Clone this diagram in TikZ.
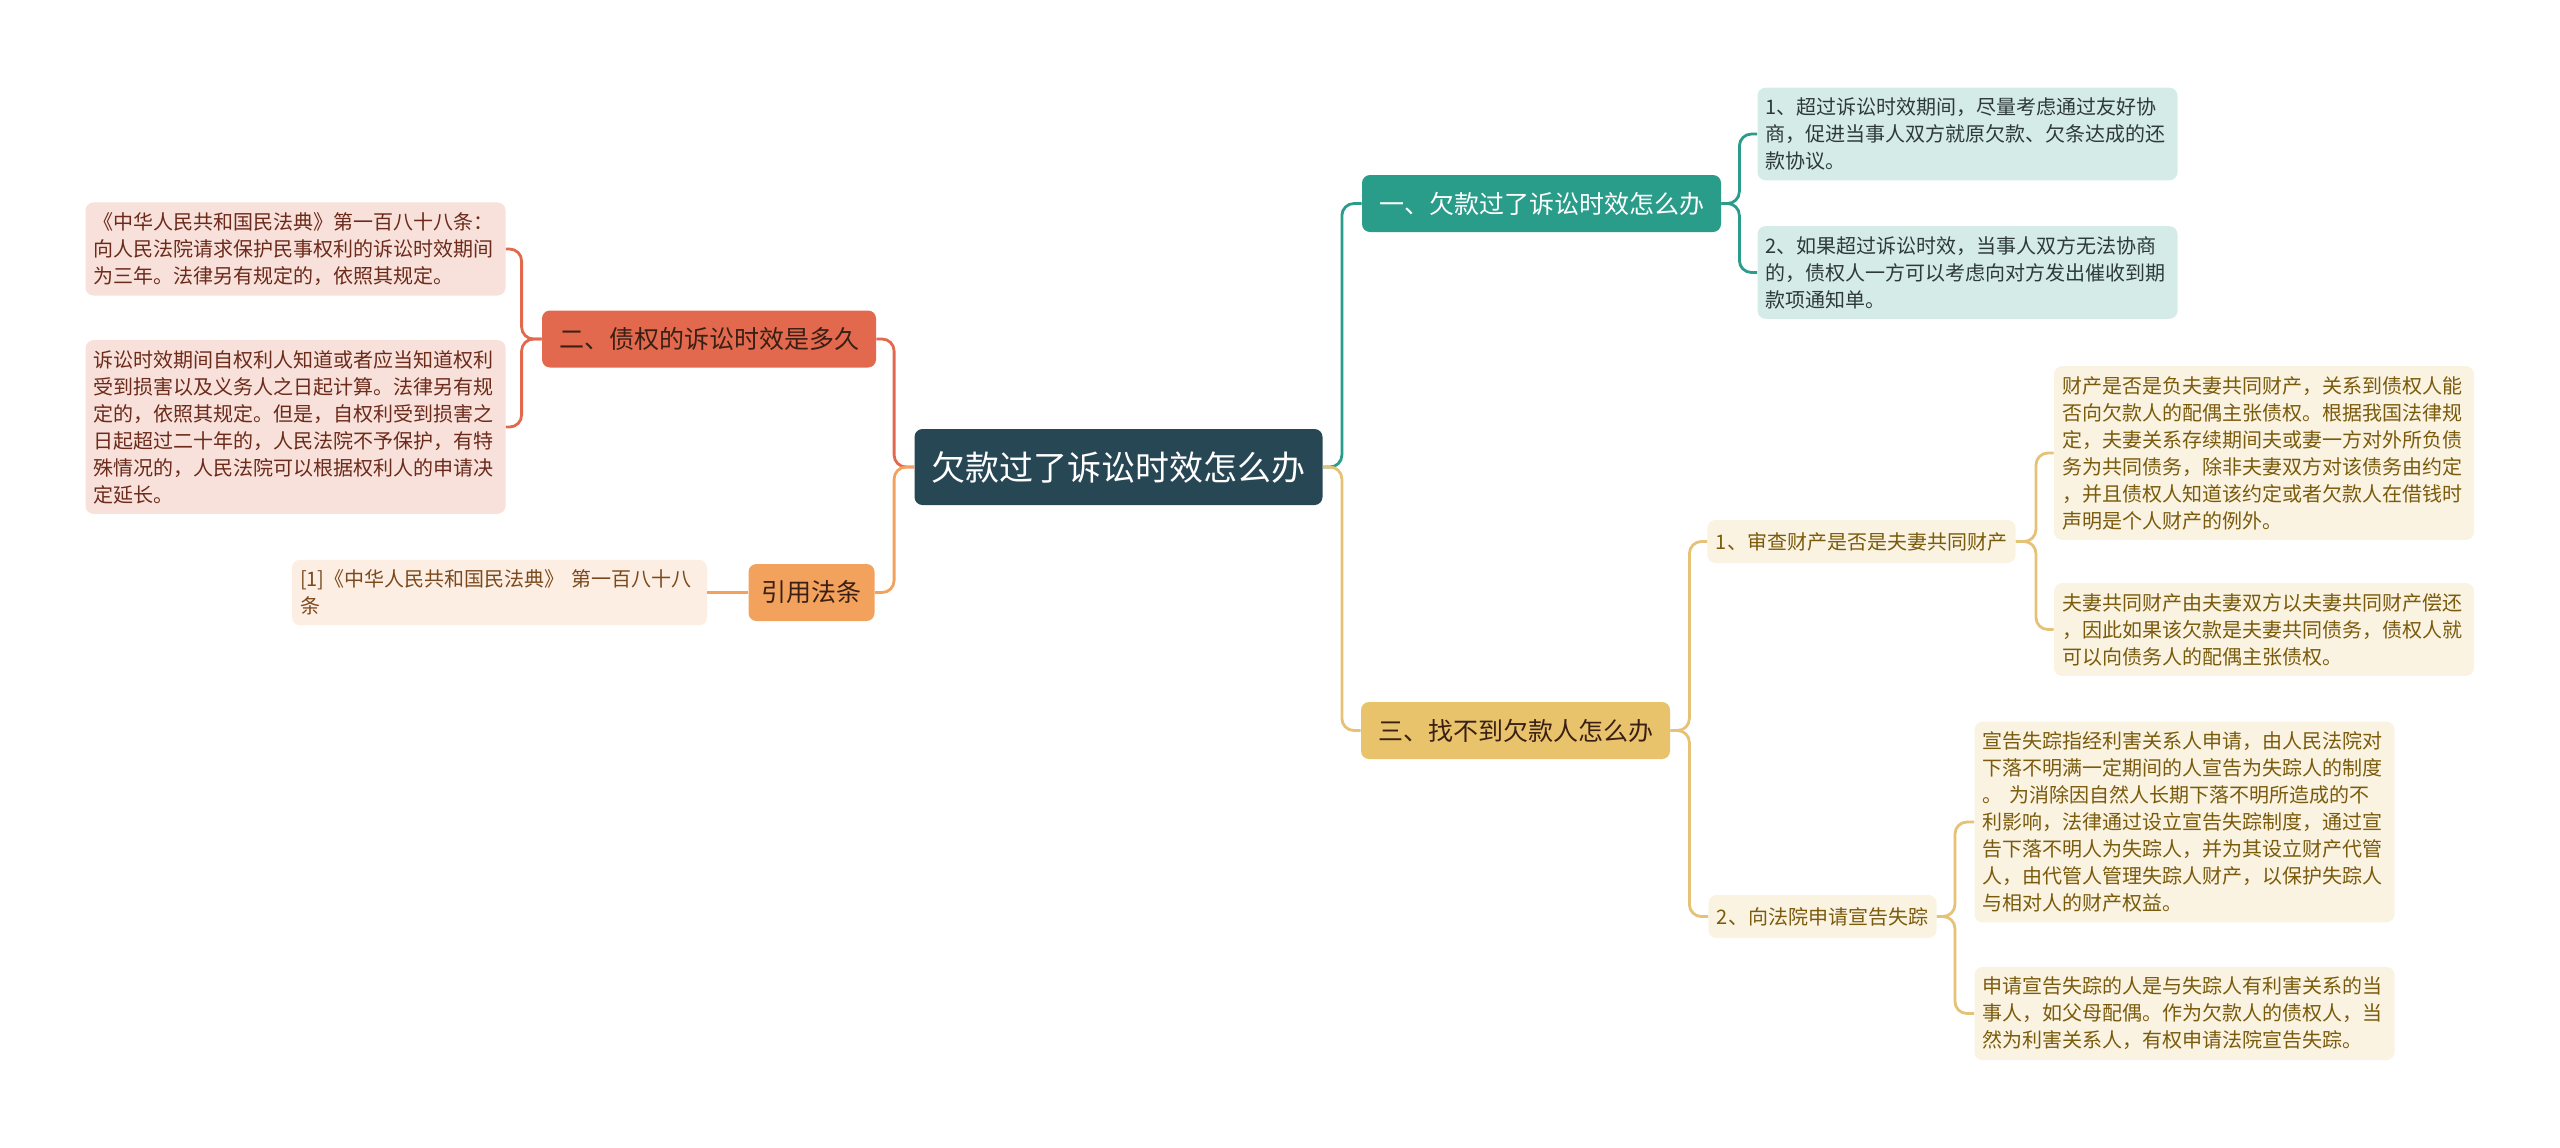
\documentclass[tikz,border=0pt]{standalone}
\usepackage{fontspec}
\setmainfont{Noto Sans CJK SC}
\usepackage{xcolor}
\usetikzlibrary{positioning,calc}

\definecolor{rootbg}{HTML}{284755}
\definecolor{tealbr}{HTML}{2A9C8A}
\definecolor{tealfill}{HTML}{D5EBE8}
\definecolor{tealtxt}{HTML}{2E3A3A}
\definecolor{redbr}{HTML}{E2694E}
\definecolor{redfill}{HTML}{F8E1DB}
\definecolor{redtxt}{HTML}{6B2A1A}
\definecolor{orgbr}{HTML}{F2A25D}
\definecolor{orgfill}{HTML}{FDEEE3}
\definecolor{orgtxt}{HTML}{7A4A1E}
\definecolor{goldbr}{HTML}{E9C36B}
\definecolor{goldln}{HTML}{E5C275}
\definecolor{goldfill}{HTML}{FAF3E2}
\definecolor{goldtxt}{HTML}{7A5B0C}
\definecolor{darktxt}{HTML}{3A2014}

\begin{document}
\begin{tikzpicture}[x=0.5pt,y=-0.5pt,
  topic/.style={fill=rootbg, text=white, rounded corners=4pt, font=\fontsize{17}{20}\selectfont,
                inner xsep=8.5pt, minimum height=38pt},
  mainbr/.style={rounded corners=4pt, font=\fontsize{12.5}{15}\selectfont, inner xsep=8.5pt,
                 minimum height=28.5pt},
  subbr/.style={fill=goldfill, text=goldtxt, rounded corners=4pt, font=\fontsize{10}{12}\selectfont,
                inner xsep=4.25pt, minimum height=21.5pt},
  note/.style={rounded corners=4pt, font=\fontsize{10}{13.5}\selectfont, text width=202pt,
               align=left, inner xsep=4pt, inner ysep=5pt},
  ln/.style={line width=1.4pt, rounded corners=6pt},
]
\useasboundingbox (0,0) rectangle (2560,1147);

\node[topic] (R) at (1118.5,467) {欠款过了诉讼时效怎么办};

% right side
\node[mainbr, fill=tealbr, text=white] (B1) at (1541.5,203.5) {一、欠款过了诉讼时效怎么办};
\node[note, fill=tealfill, text=tealtxt] (L1) at (1967.5,134)
  {1、超过诉讼时效期间，尽量考虑通过友好协\\商，促进当事人双方就原欠款、欠条达成的还\\款协议。};
\node[note, fill=tealfill, text=tealtxt] (L2) at (1967.5,272.5)
  {2、如果超过诉讼时效，当事人双方无法协商\\的，债权人一方可以考虑向对方发出催收到期\\款项通知单。};

\node[mainbr, fill=goldbr, text=darktxt] (B3) at (1515.5,730.5) {三、找不到欠款人怎么办};
\node[subbr] (S1) at (1861.5,541.5) {1、审查财产是否是夫妻共同财产};
\node[subbr] (S2) at (1822.5,916.5) {2、向法院申请宣告失踪};
\node[note, fill=goldfill, text=goldtxt] (A) at (2264,453)
  {财产是否是负夫妻共同财产，关系到债权人能\\否向欠款人的配偶主张债权。根据我国法律规\\定，夫妻关系存续期间夫或妻一方对外所负债\\务为共同债务，除非夫妻双方对该债务由约定\\，并且债权人知道该约定或者欠款人在借钱时\\声明是个人财产的例外。};
\node[note, fill=goldfill, text=goldtxt] (B) at (2264,629.5)
  {夫妻共同财产由夫妻双方以夫妻共同财产偿还\\，因此如果该欠款是夫妻共同债务，债权人就\\可以向债务人的配偶主张债权。};
\node[note, fill=goldfill, text=goldtxt] (C) at (2184.5,822)
  {宣告失踪指经利害关系人申请，由人民法院对\\下落不明满一定期间的人宣告为失踪人的制度\\。 为消除因自然人长期下落不明所造成的不\\利影响，法律通过设立宣告失踪制度，通过宣\\告下落不明人为失踪人，并为其设立财产代管\\人，由代管人管理失踪人财产，以保护失踪人\\与相对人的财产权益。};
\node[note, fill=goldfill, text=goldtxt] (D) at (2184.5,1013.5)
  {申请宣告失踪的人是与失踪人有利害关系的当\\事人，如父母配偶。作为欠款人的债权人，当\\然为利害关系人，有权申请法院宣告失踪。};

% left side
\node[mainbr, fill=redbr, text=darktxt] (B2) at (709,339) {二、债权的诉讼时效是多久};
\node[note, fill=redfill, text=redtxt] (E) at (295.5,249)
  {《中华人民共和国民法典》第一百八十八条：\\向人民法院请求保护民事权利的诉讼时效期间\\为三年。法律另有规定的，依照其规定。};
\node[note, fill=redfill, text=redtxt] (F) at (295.5,427)
  {诉讼时效期间自权利人知道或者应当知道权利\\受到损害以及义务人之日起计算。法律另有规\\定的，依照其规定。但是，自权利受到损害之\\日起超过二十年的，人民法院不予保护，有特\\殊情况的，人民法院可以根据权利人的申请决\\定延长。};

\node[mainbr, fill=orgbr, text=darktxt, inner xsep=6.5pt] (B4) at (811.5,592.5) {引用法条};
\node[note, fill=orgfill, text=orgtxt, text width=199.5pt] (G) at (499.5,592.5)
  {[1]《中华人民共和国民法典》 第一百八十八\\条};

% trunk points
\coordinate (rR) at ($(R.east)+(19,0)$);
\coordinate (rL) at ($(R.west)+(-20,0)$);
\coordinate (t1) at ($(B1.east)+(18,0)$);
\coordinate (t2) at ($(B2.west)+(-20,0)$);
\coordinate (t3) at ($(B3.east)+(19,0)$);
\coordinate (s1) at ($(S1.east)+(20,0)$);
\coordinate (s2) at ($(S2.east)+(18,0)$);

% connectors from the centre
\draw[ln, tealbr] (B1.west) -| (rR) [sharp corners] -- (R.east);
\draw[ln, goldln] (B3.west) -| (rR) [sharp corners] -- (R.east);
\draw[ln, redbr] (B2.east) -| (rL) [sharp corners] -- (R.west);
\draw[ln, orgbr] (B4.east) -| (rL) [sharp corners] -- (R.west);

% second level
\foreach \n in {L1,L2} \draw[ln, tealbr] (\n.west) -| (t1) [sharp corners] -- (B1.east);
\foreach \n in {S1,S2} \draw[ln, goldln] (\n.west) -| (t3) [sharp corners] -- (B3.east);
\foreach \n in {E,F} \draw[ln, redbr] (\n.east) -| (t2) [sharp corners] -- (B2.west);
\draw[ln, orgbr] (B4.west) -- (G.east);

% third level
\foreach \n in {A,B} \draw[ln, goldln] (\n.west) -| (s1) [sharp corners] -- (S1.east);
\foreach \n in {C,D} \draw[ln, goldln] (\n.west) -| (s2) [sharp corners] -- (S2.east);
\end{tikzpicture}
\end{document}
